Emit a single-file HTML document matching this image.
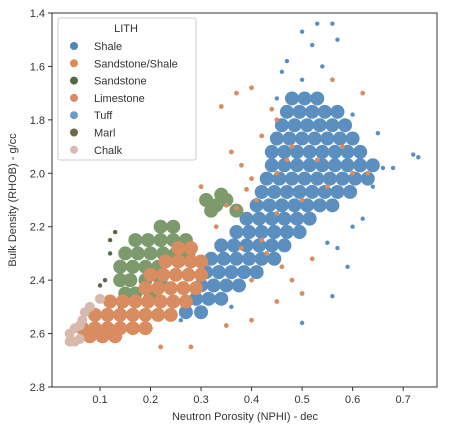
<!DOCTYPE html>
<html><head><meta charset="utf-8"><style>
body{margin:0;background:#fff;}
svg text{font-family:"Liberation Sans","DejaVu Sans",sans-serif;fill:#333;}
</style></head><body>
<svg id="chart" width="455" height="436">
<g id="marks"></g>
<g id="axes"></g>
</svg>
<script>
const xTicks=[0.1,0.2,0.3,0.4,0.5,0.6,0.7];
const yTicks=[1.4,1.6,1.8,2.0,2.2,2.4,2.6,2.8];
const legendLabels=["Shale","Sandstone/Shale","Sandstone","Limestone","Tuff","Marl","Chalk"];
const shalePts=[
[.48,1.72],[.505,1.72],[.53,1.72],
[.47,1.77],[.495,1.77],[.52,1.77],[.545,1.77],[.57,1.77],
[.46,1.82],[.485,1.82],[.51,1.82],[.535,1.82],[.56,1.82],[.585,1.82],
[.45,1.87],[.475,1.87],[.5,1.87],[.525,1.87],[.55,1.87],[.575,1.87],[.6,1.87],
[.44,1.92],[.465,1.92],[.49,1.92],[.515,1.92],[.54,1.92],[.565,1.92],[.59,1.92],[.615,1.92],
[.44,1.97],[.465,1.97],[.49,1.97],[.515,1.97],[.54,1.97],[.565,1.97],[.59,1.97],[.615,1.97],[.64,1.97],
[.43,2.02],[.455,2.02],[.48,2.02],[.505,2.02],[.53,2.02],[.555,2.02],[.58,2.02],[.605,2.02],[.63,2.02],
[.42,2.07],[.445,2.07],[.47,2.07],[.495,2.07],[.52,2.07],[.545,2.07],[.57,2.07],[.595,2.07],
[.41,2.12],[.435,2.12],[.46,2.12],[.485,2.12],[.51,2.12],[.535,2.12],[.56,2.12],
[.39,2.17],[.415,2.17],[.44,2.17],[.465,2.17],[.49,2.17],[.515,2.17],
[.37,2.22],[.395,2.22],[.42,2.22],[.445,2.22],[.47,2.22],[.495,2.22],
[.34,2.27],[.365,2.27],[.39,2.27],[.415,2.27],[.44,2.27],[.465,2.27],
[.32,2.32],[.345,2.32],[.37,2.32],[.395,2.32],[.42,2.32],[.445,2.32],
[.31,2.37],[.335,2.37],[.36,2.37],[.385,2.37],[.41,2.37],
[.30,2.42],[.325,2.42],[.35,2.42],[.375,2.42],
[.29,2.47],[.315,2.47],[.34,2.47],
[.27,2.52],[.30,2.52]
];
const shaleOutliers=[[.53,1.44],[.5,1.47],[.56,1.44],[.57,1.5],[.52,1.52],[.47,1.58],[.6,1.78],[.72,1.93],[.73,1.94],
[.66,1.98],[.68,1.98],[.59,2.35],[.56,2.46],[.5,2.56],[.36,2.5],[.26,2.55],[.55,2.26],[.62,2.17],[.5,1.65],[.45,1.72],
[.64,2.05],[.6,2.2],[.57,2.28],[.65,1.85],[.46,1.62],[.54,1.6]];
const sandstonePts=[
[.22,2.2],[.245,2.2],
[.17,2.25],[.195,2.25],[.22,2.25],[.245,2.25],[.27,2.25],
[.15,2.3],[.175,2.3],[.2,2.3],[.225,2.3],[.25,2.3],[.275,2.3],
[.14,2.35],[.165,2.35],[.19,2.35],[.215,2.35],
[.14,2.4],[.16,2.4],[.19,2.4],[.22,2.4],
[.15,2.45],[.17,2.45],[.2,2.45],
[.31,2.1],[.33,2.12],[.35,2.1],[.32,2.14],[.37,2.14],[.34,2.08]
];
const sandstoneOutliers=[[.12,2.25],[.13,2.22],[.11,2.4],[.14,2.5],[.2,2.58],[.1,2.42],[.12,2.3]];
const sandShalePts=[
[.255,2.28],[.28,2.28],
[.23,2.33],[.255,2.33],[.28,2.33],[.3,2.33],
[.2,2.38],[.225,2.38],[.25,2.38],[.275,2.38],[.3,2.38],
[.19,2.43],[.215,2.43],[.24,2.43],[.265,2.43],[.29,2.43],
[.12,2.48],[.145,2.48],[.17,2.48],[.195,2.48],[.22,2.48],[.245,2.48],[.27,2.48],
[.09,2.53],[.115,2.53],[.14,2.53],[.165,2.53],[.19,2.53],[.215,2.53],[.24,2.53],
[.065,2.58],[.09,2.58],[.115,2.58],[.14,2.58],[.165,2.58],[.19,2.58],
[.08,2.61],[.105,2.61],[.13,2.61]
];
const limestonePts=[
[.37,1.7],[.4,1.68],[.44,1.76],[.34,1.75],[.45,1.8],[.47,1.95],[.45,2.0],[.4,2.02],[.38,1.97],[.36,1.92],
[.42,1.86],[.39,2.06],[.41,2.1],[.35,2.12],[.37,2.13],[.3,2.05],[.45,2.15],[.5,2.1],[.55,2.05],[.6,2.0],
[.63,2.0],[.62,1.7],[.56,1.65],[.46,2.35],[.48,2.4],[.5,2.45],[.52,2.32],[.45,2.48],[.4,2.55],[.35,2.57],
[.33,2.2],[.38,2.28],[.42,2.25],[.28,2.65],[.22,2.65],[.48,1.9],[.53,1.95],[.58,1.9],[.43,2.3],[.4,2.4]
];
const chalkPts=[[.04,2.6],[.05,2.63],[.06,2.57],[.07,2.52],[.05,2.58],[.08,2.5],[.1,2.47],[.06,2.62],[.04,2.63],[.065,2.55]];

const L=52,R=437,T=13,B=387,X0=0.005,X1=0.767,Y0=1.4,Y1=2.8;
const sx=v=>L+(v-X0)/(X1-X0)*(R-L);
const sy=v=>T+(v-Y0)/(Y1-Y0)*(B-T);
const NS="http://www.w3.org/2000/svg";
function mk(tag,attrs,parent){const e=document.createElementNS(NS,tag);for(const k in attrs)e.setAttribute(k,attrs[k]);parent.appendChild(e);return e;}
const marks=document.getElementById('marks'),axes=document.getElementById('axes');
const series=[[shaleOutliers,'#5b8fc0',2.2,'shale'],[shalePts,'#5b8fc0',7,'shale'],[sandstonePts,'#7c9a6c',7,'sandstone'],[sandstoneOutliers,'#55684a',2.2,'sandstone'],[sandShalePts,'#d98c60',7,'sandstone-shale'],[chalkPts,'#d7b9ae',5,'chalk'],[limestonePts,'#d98c60',2.4,'limestone']];
series.forEach(([pts,col,r,nm])=>{pts.forEach(p=>{
 const c=mk('circle',{cx:sx(p[0]),cy:sy(p[1]),r:r,fill:col},marks);
 
 
});});
mk('rect',{x:L,y:T,width:R-L,height:B-T,fill:'none',stroke:'#333','stroke-width':1},axes);
xTicks.forEach(v=>{const x=sx(v);mk('line',{x1:x,x2:x,y1:B,y2:B+4,stroke:'#333'},axes);
 const t=mk('text',{x:x,y:B+16,'text-anchor':'middle','font-size':11},axes);t.textContent=v.toFixed(1);
 
 });
yTicks.forEach(v=>{const y=sy(v);mk('line',{x1:L-4,x2:L,y1:y,y2:y,stroke:'#333'},axes);
 const t=mk('text',{x:L-7,y:y+4,'text-anchor':'end','font-size':11},axes);t.textContent=v.toFixed(1);
 
 });
const xt=mk('text',{x:245,y:420,'text-anchor':'middle','font-size':11},axes);xt.textContent='Neutron Porosity (NPHI) - dec';


const yt=mk('text',{x:0,y:0,'text-anchor':'middle','font-size':11,transform:'translate(16,200) rotate(-90)'},axes);yt.textContent='Bulk Density (RHOB) - g/cc';


const lg=mk('g',{},axes);


mk('rect',{x:58,y:18,width:138,height:142,fill:'#fff','fill-opacity':0.85,stroke:'#ccc',rx:2},lg);
const lt=mk('text',{x:126,y:32,'text-anchor':'middle','font-size':11},lg);lt.textContent='LITH';
const legCols=['#4f86ba','#dd8a5e','#55684a','#d98c60','#6a9bc8','#6b6b4a','#d8bab0'];
legendLabels.forEach((s,i)=>{const y=46+i*17.3;
 const c=mk('circle',{cx:74,cy:y,r:4,fill:legCols[i]},lg);
 
 
 const t=mk('text',{x:94,y:y+4,'font-size':11},lg);t.textContent=s;
 
 });
</script>
</body></html>
